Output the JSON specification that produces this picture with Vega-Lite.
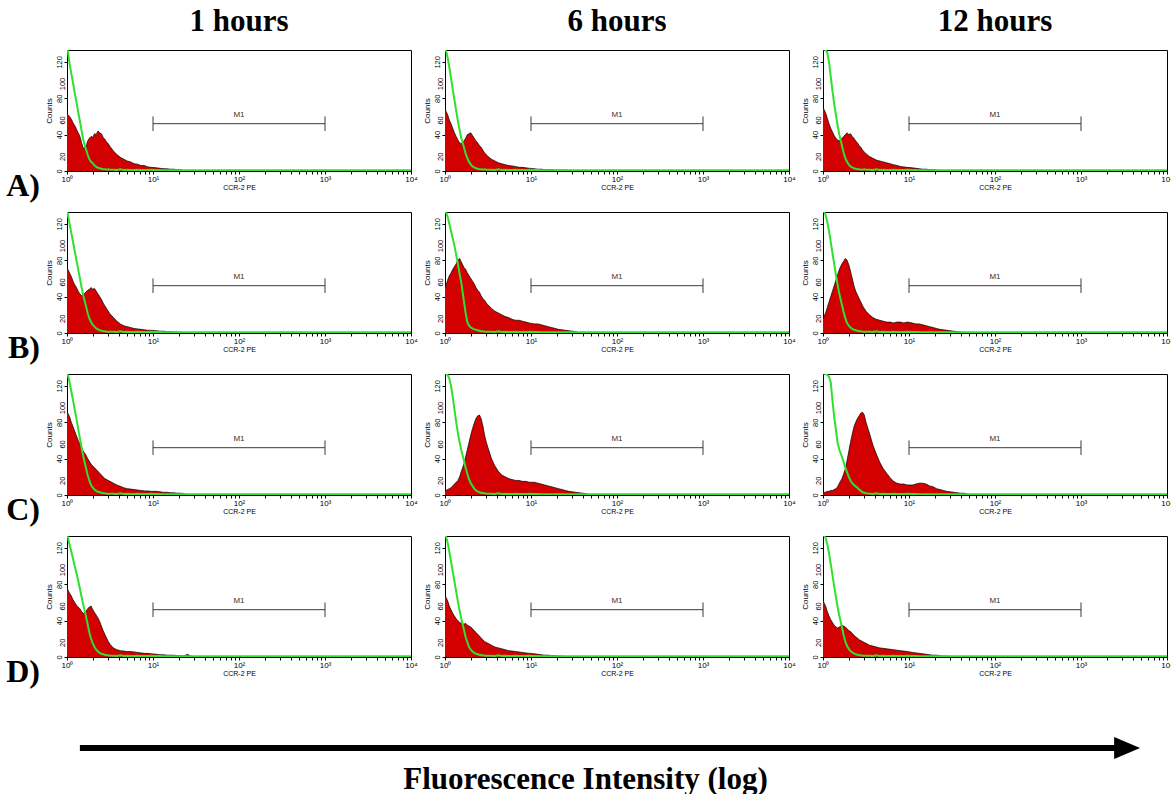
{
  "$schema": "https://vega.github.io/schema/vega-lite/v6.json",
  "background": "white",
  "padding": {"left": 6, "top": 6, "right": 0, "bottom": 0},
  "datasets": {
    "grid": [
      {"i":1,"x":1},{"i":2,"x":1.023},{"i":3,"x":1.072},{"i":4,"x":1.122},{"i":5,"x":1.175},{"i":6,"x":1.23},{"i":7,"x":1.288},{"i":8,"x":1.349},{"i":9,"x":1.413},{"i":10,"x":1.479},
      {"i":11,"x":1.549},{"i":12,"x":1.66},{"i":13,"x":1.738},{"i":14,"x":1.82},{"i":15,"x":1.905},{"i":16,"x":1.995},{"i":17,"x":2.089},{"i":18,"x":2.188},{"i":19,"x":2.291},{"i":20,"x":2.399},
      {"i":21,"x":2.512},{"i":22,"x":2.63},{"i":23,"x":2.754},{"i":24,"x":2.884},{"i":25,"x":3.02},{"i":26,"x":3.162},{"i":27,"x":3.467},{"i":28,"x":3.802},{"i":29,"x":4.169},{"i":30,"x":4.571},
      {"i":31,"x":5.012},{"i":32,"x":5.495},{"i":33,"x":6.026},{"i":34,"x":6.607},{"i":35,"x":7.244},{"i":36,"x":7.943},{"i":37,"x":8.71},{"i":38,"x":9.55},{"i":39,"x":10.96},{"i":40,"x":12.02},
      {"i":41,"x":13.18},{"i":42,"x":14.45},{"i":43,"x":15.85},{"i":44,"x":17.38},{"i":45,"x":19.05},{"i":46,"x":20.89},{"i":47,"x":22.91},{"i":48,"x":25.12},{"i":49,"x":27.54},{"i":50,"x":30.2},
      {"i":51,"x":33.11},{"i":52,"x":36.31},{"i":53,"x":39.81},{"i":54,"x":43.65},{"i":55,"x":47.86},{"i":56,"x":52.48},{"i":57,"x":63.1},{"i":58,"x":100},{"i":59,"x":316.2},{"i":60,"x":1000},
      {"i":61,"x":3162},{"i":62,"x":10000}
    ],
    "hist": [
      {"r":"A)","c":"1 hours","s":"red","y":[64,62,60,57,53,50,46,42,38,31,25,26,33,36,38,37,41,40,44,42,41,37,35,32,30,27,22,18,15,13,11,10,8,7.5,6,6,4.5,4,3.5,3,2.5,2.5,2,2,1.5,1.5,0,0,0,0,0,0,0,0,0,0,0,0,0,0,0,0]},
      {"r":"A)","c":"6 hours","s":"red","y":[68,66,62,56,52,47,42,38,34,31,30,33,36,40,41,42,39,36,33,31,28,26,23,20,18,16,13,11,9,8,7,6,5.5,5,4,4,3.5,3,2.5,2,2,1.5,1.5,1.5,1,1,1,1,0.5,0,0,0,0,0,0,0,0,0,0,0,0,0]},
      {"r":"A)","c":"12 hours","s":"red","y":[70,68,64,58,52,47,43,39,36,34,33,36,38,40,42,40,41,38,36,33,31,28,26,23,21,19,16,14,12,11,10,9,8,7,6,5,4.5,4,3.5,3,2.5,2,2,1.5,1.5,1,0.5,0,0,0,0,0,0,0,0,0,0,0,0,0,0,0]},
      {"r":"B)","c":"1 hours","s":"red","y":[72,70,66,62,57,53,50,46,43,41,42,45,47,48,50,48,49,46,43,40,37,33,30,27,24,21,17,13,10,8,7,6,5,4.5,4,3.5,3,3,2.5,2,2,1.5,1.5,1,1,0.5,0,0,0,0,0,0,0,0,0,0,0,0,0,0,0,0]},
      {"r":"B)","c":"6 hours","s":"red","y":[50,52,58,63,66,70,73,76,80,82,78,72,70,66,63,60,57,54,50,47,45,41,38,36,33,31,27,24,22,20,18,17,15,14,14,13,12,11,10,10,9,8,7,6,5,4,3.5,3,2.5,2,1.5,0,0,0,0,0,0,0,0,0,0,0]},
      {"r":"B)","c":"12 hours","s":"red","y":[15,18,22,28,34,40,46,52,58,64,70,76,79,82,80,75,68,60,52,46,42,38,34,30,27,24,20,17,15,14,13,12,12,11,12,12,11,12,11,10,10,9,8,7,6,5,4,3.5,3,2.5,2,1.5,1,0,0,0,0,0,0,0,0,0]},
      {"r":"C)","c":"1 hours","s":"red","y":[91,90,86,80,75,70,65,60,56,52,48,44,40,37,34,32,30,28,26,24,22,20,18,17,16,15,13,11,9.5,8,7,6.5,6,5.5,5,4.5,4.5,4,4,3.5,3,3,2.5,2.5,2,2,1.5,0,0,0,0,0,0,0,0,0,0,0,0,0,0,0]},
      {"r":"C)","c":"6 hours","s":"red","y":[4,5,6,7,8,10,12,14,16,20,26,34,42,50,58,66,73,79,84,87,88,84,76,66,58,52,40,32,26,22,20,18,17,16,16,15,15,14,14,13,12,11,10,9,8,7,6,5,4,3.5,3,2.5,2,1.5,0,0,0,0,0,0,0,0]},
      {"r":"C)","c":"12 hours","s":"red","y":[2,3,3,4,4,5,5,6,7,9,13,18,23,29,38,48,58,67,75,80,84,87,90,91,88,80,68,55,45,36,29,24,19,15,13,12,12,11,11,12,13,13,12,10,9,7,6,5,4,3.5,3,2.5,2,2,1,0,0,0,0,0,0,0]},
      {"r":"D)","c":"1 hours","s":"red","y":[76,74,70,67,63,60,57,55,53,50,48,50,53,55,56,52,49,46,43,39,34,29,25,21,17,14,10,8,7,6.5,6,6,5.5,5,4.5,4,4,3.5,3,2.5,2.5,2,2,2,1.5,1.5,1,3,1,0,0,0,0,0,0,0,0,0,0,0,0,0]},
      {"r":"D)","c":"6 hours","s":"red","y":[68,66,62,56,52,48,45,42,40,38,37,36,37,35,34,33,31,29,27,25,23,21,19,17,16,15,13,11,10,9,8,7,6.5,6,5.5,5,4.5,4,3.5,3,2.5,2,2,1.5,1.5,1,1,0.5,0,0,0,0,0,0,0,0,0,0,0,0,0,0]},
      {"r":"D)","c":"12 hours","s":"red","y":[62,60,56,50,45,41,38,35,33,32,33,35,34,33,31,29,28,26,24,22,21,19,18,17,16,15,13,12,11,10,9.5,9,8.5,8,7.5,7,6.5,6,5,4.5,4,3.5,3,2.5,2,2,1.5,1,1,0.5,0,0,0,0,0,0,0,0,0,0,0,0]},
      {"r":"A)","c":"1 hours","s":"green","y":[135,132,118,107,97,86,76,65,55,44,34,24,18,13,10,8.5,6,4.5,3.5,3,2.5,2,2,1.5,2,1.5,1.5,1,2,1,1.5,1,1,1.5,1,1,1,1.5,1,1,0.8,0.8,0.8,0.8,0.8,0.8,0.8,0.8,0.8,0.8,0.8,0.8,0.8,0.8,0.8,0.8,0.8,0.8,0.8,0.8,0.8,0.8]},
      {"r":"A)","c":"6 hours","s":"green","y":[135,133,125,114,102,90,78,66,55,45,36,26,19,14,10,7,5,4,3,2.5,2,2,1.5,2,1.5,1.5,1.5,1,2,1,1.5,1,1,1.5,1,1,1,1.5,1,1,0.8,0.8,0.8,0.8,0.8,0.8,0.8,0.8,0.8,0.8,0.8,0.8,0.8,0.8,0.8,0.8,0.8,0.8,0.8,0.8,0.8,0.8]},
      {"r":"A)","c":"12 hours","s":"green","y":[135,134,133,130,120,104,88,74,62,50,40,28,20,14,10,7,5,4,3,2.5,2,2,1.5,1.5,2,1.5,1.5,1,2,1,1.5,1,1,1.5,1,1,1,1.5,1,1,0.8,0.8,0.8,0.8,0.8,0.8,0.8,0.8,0.8,0.8,0.8,0.8,0.8,0.8,0.8,0.8,0.8,0.8,0.8,0.8,0.8,0.8]},
      {"r":"B)","c":"1 hours","s":"green","y":[135,130,120,110,100,90,80,70,60,50,41,30,22,16,12,9,7,5,4,3,2.5,2,2,1.5,1.5,1.5,1.5,1,2,1,1.5,1,1,1.5,1,1,1,1.5,1,1,0.8,0.8,0.8,0.8,0.8,0.8,0.8,0.8,0.8,0.8,0.8,0.8,0.8,0.8,0.8,0.8,0.8,0.8,0.8,0.8,0.8,0.8]},
      {"r":"B)","c":"6 hours","s":"green","y":[135,133,128,120,112,104,96,86,76,65,55,35,22,12,8,6,5,4,3.5,3,2.5,2,2,1.5,1.5,1.5,1.5,1,2,1,1.5,1,1,1.5,1,1,1,1.5,1,1,0.8,0.8,0.8,0.8,0.8,0.8,0.8,0.8,0.8,0.8,0.8,0.8,0.8,0.8,0.8,0.8,0.8,0.8,0.8,0.8,0.8,0.8]},
      {"r":"B)","c":"12 hours","s":"green","y":[135,134,130,122,112,100,88,76,64,53,43,31,23,16,11,8,6,4.5,3.5,3,2.5,2,2,1.5,1.5,1.5,1.5,1,2,1,1.5,1,1,1.5,1,1,1,1.5,1,1,0.8,0.8,0.8,0.8,0.8,0.8,0.8,0.8,0.8,0.8,0.8,0.8,0.8,0.8,0.8,0.8,0.8,0.8,0.8,0.8,0.8,0.8]},
      {"r":"C)","c":"1 hours","s":"green","y":[135,132,124,114,104,94,84,73,62,52,42,30,22,16,11,8,6,4.5,3.5,3,2.5,2,2,1.5,1.5,1.5,1.5,1,2,1,1.5,1,1,1.5,1,1,1,1.5,1,1,0.8,0.8,0.8,0.8,0.8,0.8,0.8,0.8,0.8,0.8,0.8,0.8,0.8,0.8,0.8,0.8,0.8,0.8,0.8,0.8,0.8,0.8]},
      {"r":"C)","c":"6 hours","s":"green","y":[135,134,132,128,120,108,94,80,68,58,49,38,30,23,17,13,10,7,5,4,3,2.5,2,2,1.5,1.5,1.5,1,2,1,1.5,1,1,1.5,1,1,1,1.5,1,1,0.8,0.8,0.8,0.8,0.8,0.8,0.8,0.8,0.8,0.8,0.8,0.8,0.8,0.8,0.8,0.8,0.8,0.8,0.8,0.8,0.8,0.8]},
      {"r":"C)","c":"12 hours","s":"green","y":[135,134,133,132,130,124,104,86,72,57,50,42,36,30,25,20,16,13,11,9.5,8,6,4.5,3,2.5,2,1.5,1,2,1,1.5,1,1,1.5,1,1,1,1.5,1,1,0.8,0.8,0.8,0.8,0.8,0.8,0.8,0.8,0.8,0.8,0.8,0.8,0.8,0.8,0.8,0.8,0.8,0.8,0.8,0.8,0.8,0.8]},
      {"r":"D)","c":"1 hours","s":"green","y":[135,132,123,116,108,100,92,84,75,66,57,45,36,27,20,15,11,8,6,4.5,3.5,3,2.5,2,2,1.5,1.5,1,2,1,1.5,1,1,1.5,1,1,1,1.5,1,1,0.8,0.8,0.8,0.8,0.8,0.8,0.8,0.8,0.8,0.8,0.8,0.8,0.8,0.8,0.8,0.8,0.8,0.8,0.8,0.8,0.8,0.8]},
      {"r":"D)","c":"6 hours","s":"green","y":[135,133,126,116,105,94,83,72,61,51,42,30,22,16,11,8,6,4.5,3.5,3,2.5,2,2,1.5,1.5,1.5,1.5,1,2,1,1.5,1,1,1.5,1,1,1,1.5,1,1,0.8,0.8,0.8,0.8,0.8,0.8,0.8,0.8,0.8,0.8,0.8,0.8,0.8,0.8,0.8,0.8,0.8,0.8,0.8,0.8,0.8,0.8]},
      {"r":"D)","c":"12 hours","s":"green","y":[135,134,131,124,114,102,90,78,66,55,45,33,24,17,12,9,6.5,5,4,3,2.5,2,2,1.5,1.5,1.5,1.5,1,2,1,1.5,1,1,1.5,1,1,1,1.5,1,1,0.8,0.8,0.8,0.8,0.8,0.8,0.8,0.8,0.8,0.8,0.8,0.8,0.8,0.8,0.8,0.8,0.8,0.8,0.8,0.8,0.8,0.8]}
    ]
  },
  "spacing": 48,
  "vconcat": [
    {
      "data": {"name": "hist"},
      "transform": [
        {"flatten": ["y"]},
        {"window": [{"op": "row_number", "as": "i"}], "groupby": ["r", "c", "s"]},
        {"lookup": "i", "from": {"data": {"name": "grid"}, "key": "i", "fields": ["x"]}}
      ],
      "facet": {
        "row": {"field": "r", "type": "nominal", "title": null,
          "header": {"labelAngle": 0, "labelOrient": "left", "labelAnchor": "start", "labelAlign": "left", "labelBaseline": "top",
            "labelFont": "Liberation Serif", "labelFontSize": 32, "labelFontWeight": "bold", "labelColor": "#000", "labelPadding": 27}},
        "column": {"field": "c", "type": "nominal", "title": null, "sort": ["1 hours", "6 hours", "12 hours"],
          "header": {"labelFont": "Liberation Serif", "labelFontSize": 31, "labelFontWeight": "bold", "labelColor": "#000", "labelPadding": -19, "labelBaseline": "bottom"}}
      },
      "spacing": {"row": 41, "column": 34},
      "bounds": "flush",
      "resolve": {"axis": {"x": "independent", "y": "independent"}},
      "spec": {
        "width": 344,
        "height": 121,
        "layer": [
          {
            "transform": [{"filter": "datum.s == 'red'"}],
            "mark": {"type": "area", "color": "#d20000", "opacity": 1, "fillOpacity": 1, "clip": true, "line": {"color": "#000", "strokeWidth": 0.7}},
            "encoding": {
              "x": {"field": "x", "type": "quantitative",
                "scale": {"type": "log", "domain": [1, 10000], "nice": false},
                "axis": {"values": [1,2,3,4,5,6,7,8,9,10,20,30,40,50,60,70,80,90,100,200,300,400,500,600,700,800,900,1000,2000,3000,4000,5000,6000,7000,8000,9000,10000],
                  "labelExpr": "datum.value == 1 ? '10⁰' : datum.value == 10 ? '10¹' : datum.value == 100 ? '10²' : datum.value == 1000 ? '10³' : datum.value == 10000 ? '10⁴' : ''",
                  "labelFontSize": 8, "labelPadding": 1, "labelOverlap": false, "labelFlush": false, "tickSize": 3,
                  "title": "CCR-2 PE", "titleFontSize": 7, "titleFontWeight": "normal", "titlePadding": 0}},
              "y": {"field": "y", "type": "quantitative",
                "scale": {"domain": [0, 133], "nice": false, "zero": true},
                "axis": {"values": [0, 10, 20, 30, 40, 50, 60, 70, 80, 90, 100, 110, 120, 130],
                  "labelExpr": "datum.value % 40 == 0 ? datum.label : ''",
                  "labelAngle": 270, "labelFontSize": 7.5, "labelPadding": 1, "tickSize": 3,
                  "labelOverlap": false, "labelBound": false, "labelFlush": false,
                  "title": "Counts", "titleFontSize": 8, "titleFontWeight": "normal", "titlePadding": 2}}
            }
          },
          {
            "transform": [{"filter": "datum.s == 'green'"}],
            "mark": {"type": "line", "color": "#2fe02f", "strokeWidth": 2, "clip": true},
            "encoding": {
              "x": {"field": "x", "type": "quantitative"},
              "y": {"field": "y", "type": "quantitative"}
            }
          },
          {
            "transform": [{"filter": "datum.s == 'red' && datum.i == 1"}],
            "mark": {"type": "rule", "color": "#3a3a3a", "strokeWidth": 1},
            "encoding": {
              "x": {"datum": 10, "type": "quantitative"},
              "x2": {"datum": 1000},
              "y": {"datum": 52, "type": "quantitative"}
            }
          },
          {
            "transform": [{"filter": "datum.s == 'red' && datum.i == 1"}],
            "mark": {"type": "rule", "color": "#3a3a3a", "strokeWidth": 1},
            "encoding": {
              "x": {"datum": 10, "type": "quantitative"},
              "y": {"datum": 44, "type": "quantitative"},
              "y2": {"datum": 60}
            }
          },
          {
            "transform": [{"filter": "datum.s == 'red' && datum.i == 1"}],
            "mark": {"type": "rule", "color": "#3a3a3a", "strokeWidth": 1},
            "encoding": {
              "x": {"datum": 1000, "type": "quantitative"},
              "y": {"datum": 44, "type": "quantitative"},
              "y2": {"datum": 60}
            }
          },
          {
            "transform": [{"filter": "datum.s == 'red' && datum.i == 1"}],
            "mark": {"type": "text", "color": "#333", "fontSize": 8, "baseline": "bottom", "text": "M1"},
            "encoding": {
              "x": {"datum": 100, "type": "quantitative"},
              "y": {"datum": 57, "type": "quantitative"}
            }
          },
          {
            "transform": [{"filter": "datum.s == 'red' && datum.i == 1"}],
            "mark": {"type": "text", "color": "#000", "fontSize": 7.5, "angle": 270, "align": "center", "baseline": "bottom", "dx": -4, "text": "20", "clip": false},
            "encoding": {
              "x": {"datum": 1, "type": "quantitative"},
              "y": {"datum": 20, "type": "quantitative"}
            }
          },
          {
            "transform": [{"filter": "datum.s == 'red' && datum.i == 1"}],
            "mark": {"type": "text", "color": "#000", "fontSize": 7.5, "angle": 270, "align": "center", "baseline": "bottom", "dx": -4, "text": "60", "clip": false},
            "encoding": {
              "x": {"datum": 1, "type": "quantitative"},
              "y": {"datum": 60, "type": "quantitative"}
            }
          },
          {
            "transform": [{"filter": "datum.s == 'red' && datum.i == 1"}],
            "mark": {"type": "text", "color": "#000", "fontSize": 7.5, "angle": 270, "align": "center", "baseline": "bottom", "dx": -4, "text": "100", "clip": false},
            "encoding": {
              "x": {"datum": 1, "type": "quantitative"},
              "y": {"datum": 100, "type": "quantitative"}
            }
          }
        ]
      }
    },
    {
      "data": {"values": [{"k": 1}]},
      "width": 1073,
      "height": 20,
      "view": {"stroke": null},
      "layer": [
        {
          "mark": {"type": "rule", "color": "#000", "strokeWidth": 6},
          "encoding": {
            "x": {"datum": 0.012, "type": "quantitative", "scale": {"domain": [0, 1], "nice": false},
              "axis": {"domain": false, "ticks": false, "labels": false, "grid": false,
                "title": "Fluorescence Intensity (log)", "titleFont": "Liberation Serif", "titleFontSize": 31, "titleFontWeight": "bold", "titleColor": "#000", "titlePadding": 6, "titleX": 518}},
            "x2": {"datum": 0.985},
            "y": {"datum": 0.5, "type": "quantitative", "scale": {"domain": [0, 1]}, "axis": null}
          }
        },
        {
          "mark": {"type": "point", "shape": "M-1,-0.85L1,0L-1,0.85Z", "filled": true, "color": "#000", "opacity": 1, "size": 676},
          "encoding": {
            "x": {"datum": 0.988, "type": "quantitative"},
            "y": {"datum": 0.5, "type": "quantitative"}
          }
        }
      ]
    }
  ],
  "config": {
    "font": "Liberation Sans",
    "view": {"stroke": "#000", "strokeWidth": 1},
    "axis": {"domainColor": "#000", "tickColor": "#000", "labelColor": "#000", "titleColor": "#000", "grid": false, "labelOverlap": false}
  }
}
